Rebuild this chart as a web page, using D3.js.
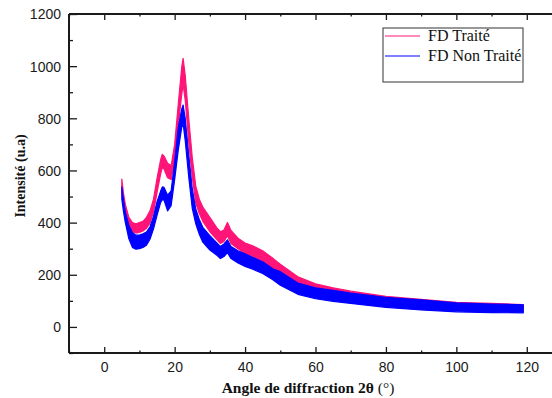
<!DOCTYPE html>
<html>
<head>
<meta charset="utf-8">
<script src="https://cdn.jsdelivr.net/npm/d3@7"></script>
<style>
  body { margin: 0; background: #fff; }
  svg { display: block; }
</style>
</head>
<body>
<div id="chart"></div>
<script>
const angles = [5, 5.5, 6, 7, 8, 9, 10, 11, 12, 13, 14, 15, 16, 16.5, 17, 18, 19, 20, 21, 22, 22.4, 23, 24, 25, 26, 27, 28, 30, 32, 33, 34, 35, 36, 38, 40, 42, 45, 48, 50, 55, 60, 65, 70, 80, 90, 100, 110, 119];

// FD Traité: lower / upper edge of the noisy trace
const traiteLow  = [520, 470, 430, 385, 365, 360, 362, 368, 378, 398, 440, 515, 585, 612, 605, 572, 565, 635, 770, 890, 930, 870, 710, 575, 475, 435, 405, 365, 335, 320, 328, 350, 320, 300, 282, 272, 252, 222, 200, 160, 133, 118, 105, 88, 78, 68, 64, 60];
const traiteHigh = [567, 510, 470, 420, 400, 395, 400, 405, 420, 445, 490, 570, 640, 662, 655, 628, 618, 700, 850, 995, 1030, 965, 800, 650, 540, 490, 460, 420, 380, 365, 372, 400, 370, 340, 322, 312, 292, 262, 240, 192, 165, 150, 137, 117, 106, 94, 90, 86];

// FD Non Traité
const nonTraiteLow  = [490, 440, 400, 338, 305, 298, 300, 305, 313, 336, 376, 428, 476, 488, 486, 445, 465, 565, 675, 765, 780, 715, 575, 455, 395, 355, 325, 295, 275, 262, 270, 285, 262, 245, 232, 222, 205, 180, 160, 125, 108, 98, 90, 75, 65, 58, 55, 54];
const nonTraiteHigh = [537, 485, 440, 390, 362, 352, 352, 357, 364, 384, 424, 480, 520, 537, 535, 505, 522, 632, 762, 835, 851, 800, 660, 530, 452, 412, 382, 350, 322, 308, 318, 334, 308, 292, 280, 268, 250, 222, 212, 168, 150, 140, 130, 113, 104, 92, 88, 85];

const seriesNames = ["FD Traité", "FD Non Traité"];
const xTicks = [0, 20, 40, 60, 80, 100, 120];
const yTicks = [0, 200, 400, 600, 800, 1000, 1200];

const width = 552, height = 398;
const margin = { top: 14, left: 69, bottom: 45 };
const colors = ["#ff1478", "#0000ff"];

const svg = d3.select("#chart").append("svg")
  .attr("width", width)
  .attr("height", height);

const x = d3.scaleLinear().domain([-10, 130]).range([margin.left, 562]);
const y = d3.scaleLinear().domain([-100, 1200]).range([height - margin.bottom, margin.top]);

// traces (blue drawn over pink)
const bands = [
  angles.map((a, i) => ({ a, lo: traiteLow[i], hi: traiteHigh[i] })),
  angles.map((a, i) => ({ a, lo: nonTraiteLow[i], hi: nonTraiteHigh[i] }))
];

const area = d3.area()
  .x(d => x(d.a))
  .y0(d => y(d.lo))
  .y1(d => y(d.hi));

bands.forEach((b, i) => {
  svg.append("path")
    .datum(b)
    .attr("d", area)
    .attr("fill", colors[i])
    .attr("stroke", colors[i])
    .attr("stroke-width", 1.2)
    .attr("stroke-linejoin", "round");
});

// axes
const axisColor = "#1a1a1a";
const tickFont = "'Liberation Sans', Arial, sans-serif";

const yMinor = d3.range(-100, 1201, 100).filter(v => v % 200 !== 0);
const xMinor = d3.range(-10, 131, 10).filter(v => v % 20 !== 0);

const gy = svg.append("g").attr("transform", `translate(${margin.left},0)`);
gy.call(d3.axisRight(y).tickValues(yTicks).tickSize(8).tickFormat(d3.format("d")));
gy.append("g").call(d3.axisRight(y).tickValues(yMinor).tickSize(4).tickFormat(""));

const gx = svg.append("g").attr("transform", `translate(0,${height - margin.bottom})`);
gx.call(d3.axisTop(x).tickValues(xTicks).tickSize(6).tickFormat(d3.format("d")));
gx.append("g").call(d3.axisTop(x).tickValues(xMinor).tickSize(2.5).tickFormat(""));

const gt = svg.append("g").attr("transform", `translate(0,${margin.top})`);
gt.call(d3.axisBottom(x).tickValues(xTicks).tickSize(6).tickFormat(""));
gt.append("g").call(d3.axisBottom(x).tickValues(xMinor).tickSize(2.5).tickFormat(""));

[gy, gx, gt].forEach(g => {
  g.selectAll(".domain").remove();
  g.selectAll("line").attr("stroke", axisColor).attr("stroke-width", 1.3);
});

// move tick labels outside
gy.selectAll(".tick text")
  .attr("x", -8)
  .attr("text-anchor", "end")
  .attr("dy", "0.35em")
  .style("font-family", tickFont)
  .style("font-size", "14px")
  .attr("fill", axisColor);
gx.selectAll(".tick text")
  .attr("y", 19)
  .attr("dy", 0)
  .style("font-family", tickFont)
  .style("font-size", "14px")
  .attr("fill", axisColor);

// axis lines
svg.append("line")
  .attr("x1", margin.left).attr("x2", margin.left)
  .attr("y1", margin.top).attr("y2", height - margin.bottom)
  .attr("stroke", axisColor).attr("stroke-width", 2);
svg.append("line")
  .attr("x1", margin.left).attr("x2", width)
  .attr("y1", height - margin.bottom).attr("y2", height - margin.bottom)
  .attr("stroke", axisColor).attr("stroke-width", 2);
svg.append("line")
  .attr("x1", margin.left).attr("x2", width)
  .attr("y1", margin.top).attr("y2", margin.top)
  .attr("stroke", axisColor).attr("stroke-width", 2);

// axis titles
const titleFont = "'Liberation Serif', 'Times New Roman', serif";

const xt = svg.append("text")
  .attr("x", 308)
  .attr("y", 393)
  .attr("text-anchor", "middle")
  .style("font-family", titleFont)
  .style("font-size", "15.5px")
  .attr("fill", "#111");
xt.append("tspan").style("font-weight", "bold").text("Angle de diffraction 2θ ");
xt.append("tspan").text("(°)");

svg.append("text")
  .attr("transform", "translate(25,176) rotate(-90)")
  .attr("text-anchor", "middle")
  .style("font-family", titleFont)
  .style("font-size", "14px")
  .style("font-weight", "bold")
  .attr("fill", "#111")
  .text("Intensité (u.a)");

// legend
const legend = svg.append("g");
legend.append("rect")
  .attr("x", 383).attr("y", 28)
  .attr("width", 140).attr("height", 54)
  .attr("fill", "#fff")
  .attr("stroke", "#333")
  .attr("stroke-width", 1);

seriesNames.forEach((name, i) => {
  const ly = 36 + i * 20;
  legend.append("line")
    .attr("x1", 385).attr("x2", 420)
    .attr("y1", ly).attr("y2", ly)
    .attr("stroke", colors[i])
    .attr("stroke-width", 1);
  legend.append("text")
    .attr("x", 428)
    .attr("y", ly + 5)
    .style("font-family", titleFont)
    .style("font-size", "16px")
    .attr("fill", "#111")
    .text(name);
});
</script>
</body>
</html>
